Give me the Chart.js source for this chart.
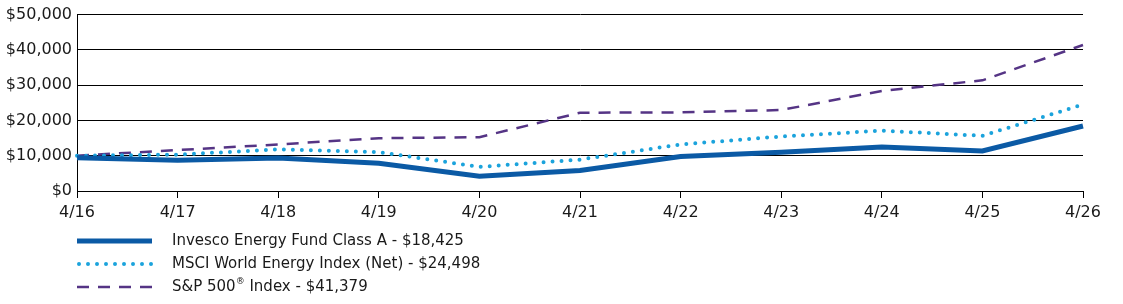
<!DOCTYPE html>
<html>
<head>
<meta charset="utf-8">
<script src="https://cdn.jsdelivr.net/npm/chart.js@4.4.1/dist/chart.umd.min.js"></script>
<style>
  html, body { margin: 0; padding: 0; background: #fff; }
  #wrap { width: 1123px; height: 304px; }
</style>
</head>
<body>
<div id="wrap"><canvas id="growthChart" width="1123" height="304"></canvas></div>
<script>
// Chart data
const periods = ['4/16', '4/17', '4/18', '4/19', '4/20', '4/21', '4/22', '4/23', '4/24', '4/25', '4/26'];
const fundValues = [9450, 8700, 9350, 7860, 4200, 5800, 9800, 11000, 12450, 11350, 18425];
const msciValues = [10000, 10300, 11800, 11040, 6830, 8900, 13200, 15450, 17100, 15650, 24498];
const spValues = [10000, 11600, 13200, 14970, 15250, 22190, 22280, 22950, 28370, 31370, 41379];
const seriesNames = [
  'Invesco Energy Fund Class A - $18,425',
  'MSCI World Energy Index (Net) - $24,498',
  'S&P 500® Index - $41,379'
];
const yTicks = [0, 10000, 20000, 30000, 40000, 50000];

const textColor = '#1a1a1a';
const fontFamily = '"DejaVu Sans", sans-serif';

// draws the stacked legend below the plot
const bottomLegend = {
  id: 'bottomLegend',
  afterDraw(chart) {
    const ctx = chart.ctx;
    const left = chart.chartArea.left;
    chart.data.datasets.forEach((ds, i) => {
      const y = 241 + i * 23;
      ctx.save();
      ctx.strokeStyle = ds.borderColor;
      ctx.lineWidth = ds.borderWidth;
      ctx.lineCap = ds.borderCapStyle || 'butt';
      ctx.setLineDash(ds.borderDash || []);
      ctx.beginPath();
      ctx.moveTo(left + (ds.borderCapStyle === 'round' ? 2 : 0), y);
      ctx.lineTo(left + 75, y);
      ctx.stroke();
      ctx.restore();

      ctx.save();
      ctx.fillStyle = textColor;
      ctx.textBaseline = 'middle';
      ctx.textAlign = 'left';
      let x = left + 95;
      const parts = ds.label.split('®');
      parts.forEach((part, k) => {
        ctx.font = '15px ' + fontFamily;
        ctx.fillText(part, x, y);
        x += ctx.measureText(part).width;
        if (k < parts.length - 1) {
          ctx.font = '9px ' + fontFamily;
          ctx.fillText('®', x, y - 5);
          x += ctx.measureText('®').width;
        }
      });
      ctx.restore();
    });
  }
};

const ctx = document.getElementById('growthChart').getContext('2d');
new Chart(ctx, {
  type: 'line',
  data: {
    labels: periods,
    datasets: [
      {
        label: seriesNames[0],
        data: fundValues,
        borderColor: '#0b5aa5',
        borderWidth: 5,
        borderCapStyle: 'butt',
        pointRadius: 0,
        tension: 0
      },
      {
        label: seriesNames[1],
        data: msciValues,
        borderColor: '#1ba3dc',
        borderWidth: 4,
        borderDash: [0, 9],
        borderCapStyle: 'round',
        pointRadius: 0,
        tension: 0
      },
      {
        label: seriesNames[2],
        data: spValues,
        borderColor: '#553485',
        borderWidth: 2.5,
        borderDash: [12, 9],
        borderCapStyle: 'butt',
        pointRadius: 0,
        tension: 0
      }
    ]
  },
  options: {
    responsive: false,
    animation: false,
    devicePixelRatio: 1,
    layout: { padding: { left: 0, top: 13, right: 40, bottom: 0 } },
    plugins: {
      legend: { display: false },
      tooltip: { enabled: false }
    },
    scales: {
      x: {
        offset: false,
        grid: { drawOnChartArea: false, drawTicks: true, tickLength: 7, color: '#000', lineWidth: 1 },
        border: { display: true, color: '#000', width: 1 },
        ticks: { color: textColor, font: { family: fontFamily, size: 16 }, padding: 5, maxRotation: 0, autoSkip: false },
        afterFit: s => { s.height = 113; }
      },
      y: {
        min: 0,
        max: 50000,
        afterBuildTicks: s => { s.ticks = yTicks.map(v => ({ value: v })); },
        grid: { drawTicks: false, color: '#000', lineWidth: 1 },
        border: { display: true, color: '#000', width: 1 },
        ticks: {
          color: textColor,
          font: { family: fontFamily, size: 16 },
          padding: 5,
          callback: v => '$' + v.toLocaleString('en-US')
        },
        afterFit: s => { s.width = 77; }
      }
    }
  },
  plugins: [bottomLegend]
});
</script>
</body>
</html>
